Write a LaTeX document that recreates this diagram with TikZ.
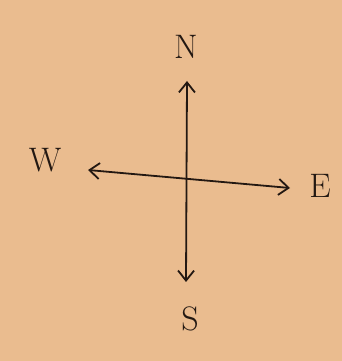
\documentclass[tikz,border=0pt]{standalone}
\usetikzlibrary{arrows.meta}
\definecolor{paper}{RGB}{234,188,143}
\definecolor{ink}{RGB}{35,24,18}
\begin{document}
\begin{tikzpicture}[x=1pt,y=1pt,
  lbl/.style={text=ink,font=\fontsize{34}{34}\selectfont,inner sep=0pt},
  arr/.style={draw=ink,line width=1.8pt,{Straight Barb[length=10pt,width=16pt,line width=1.8pt]}-{Straight Barb[length=10pt,width=16pt,line width=1.8pt]}}]
\fill[paper] (0,0) rectangle (342,361);
\useasboundingbox (0,0) rectangle (342,361);
\node[lbl] (N) at (186,314) {N};
\node[lbl] (W) at (45,201) {W};
\node[lbl] (E) at (320,175) {E};
\node[lbl] (S) at (190,42) {S};
\coordinate (nt) at (187,280);
\coordinate (st) at (186,79);
\coordinate (wt) at (88,191);
\coordinate (et) at (290,173);
\draw[arr] (st) -- (nt);
\draw[arr] (wt) -- (et);
\end{tikzpicture}
\end{document}
